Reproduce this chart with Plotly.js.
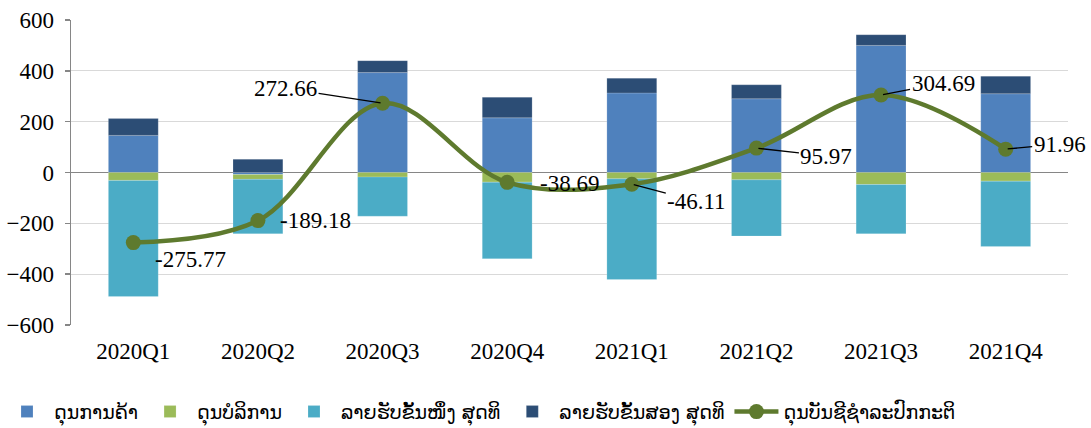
<!DOCTYPE html>
<html>
<head>
<meta charset="utf-8">
<script src="https://cdn.plot.ly/plotly-3.0.1.min.js"></script>
<style>html,body{margin:0;padding:0;background:#fff;}#chart{width:1091px;height:428px;}</style>
</head>
<body>
<div id="chart"></div>
<script>
// ---- data ----
const categories = ["2020Q1","2020Q2","2020Q3","2020Q4","2021Q1","2021Q2","2021Q3","2021Q4"];
const tradeBalance     = [146, -8, 393, 215, 313, 290, 500, 310];
const serviceBalance   = [-31, -19, -18, -38, -25, -29, -47, -34];
const primaryIncome    = [-457, -214, -154, -301, -396, -221, -194, -257];
const secondaryIncome  = [66, 52, 47, 81, 58, 55, 42, 69];
const currentAccount   = [-275.77, -189.18, 272.66, -38.69, -46.11, 95.97, 304.69, 91.96];
const seriesNames = ["ດຸນການຄ້າ","ດຸນບໍລິການ","ລາຍຮັບຂັ້ນໜຶ່ງ ສຸດທິ","ລາຍຮັບຂັ້ນສອງ ສຸດທິ","ດຸນບັນຊີຊຳລະປົກກະຕິ"];
const yTicks = [-600,-400,-200,0,200,400,600];

// ---- label placement (style only) ----
const labelOffsets = [
  {ax: 57, ay: 17, line: false},
  {ax: 58, ay: 0, line: false},
  {ax: -97, ay: -15, line: true},
  {ax: 62, ay: 1, line: false},
  {ax: 65, ay: 17, line: true},
  {ax: 70, ay: 8, line: true},
  {ax: 62, ay: -12, line: true},
  {ax: 54, ay: -5, line: true}
];

const serif = "Liberation Serif, Times New Roman, serif";
const lao = "DejaVu Sans, Noto Sans, sans-serif";
const barColors = ["#4F81BD","#9BBB59","#4BACC6","#2C4D75"];
const barSeries = [tradeBalance, serviceBalance, primaryIncome, secondaryIncome];

const traces = barSeries.map((vals, i) => ({
  type: "bar",
  x: categories,
  y: vals,
  name: seriesNames[i],
  marker: {color: barColors[i], line: {color: "rgba(255,255,255,0.35)", width: 0.5}},
  hoverinfo: "x+y+name"
}));
traces.push({
  type: "scatter",
  mode: "lines+markers",
  x: categories,
  y: currentAccount,
  name: seriesNames[4],
  line: {shape: "spline", smoothing: 1, color: "#5E7A2E", width: 4.5},
  marker: {size: 15, color: "#5E7A2E"}
});

const annotations = currentAccount.map((v, i) => {
  const o = labelOffsets[i];
  return {
    x: categories[i], y: v, xref: "x", yref: "y",
    text: v.toFixed(2),
    font: {family: serif, size: 23, color: "#000"},
    showarrow: true,
    arrowhead: 0, arrowwidth: 1.3,
    arrowcolor: o.line ? "#000" : "rgba(0,0,0,0)",
    ax: o.ax, ay: o.ay, standoff: 2
  };
});

const layout = {
  width: 1091, height: 428,
  margin: {l: 71, r: 23, t: 20, b: 103},
  paper_bgcolor: "#fff", plot_bgcolor: "#fff",
  barmode: "relative",
  bargap: 0.6,
  showlegend: true,
  legend: {
    orientation: "h", xref: "container", yref: "container",
    x: 0, xanchor: "left",
    y: 0.038, yanchor: "middle",
    font: {family: lao, size: 19, color: "#000"},
    traceorder: "normal", itemwidth: 44
  },
  xaxis: {
    type: "category", range: [-0.5, categories.length - 0.5], autorange: false,
    automargin: false,
    showgrid: false, showline: false, zeroline: false,
    ticks: "", ticklabelstandoff: 10,
    tickfont: {family: serif, size: 23, color: "#000"}
  },
  xaxis2: {
    overlaying: "x", anchor: "free", position: 0.5, side: "bottom",
    type: "linear", range: [-0.5, categories.length - 0.5], autorange: false,
    automargin: false,
    tickmode: "array",
    tickvals: categories.map((c, i) => i + 0.5),
    ticks: "outside", ticklen: 6, tickwidth: 1.5, tickcolor: "#868686",
    showticklabels: false, showgrid: false, showline: false, zeroline: false
  },
  yaxis: {
    range: [-600, 600], autorange: false, automargin: false,
    tickmode: "array", tickvals: yTicks,
    ticks: "outside", ticklen: 5, tickwidth: 1.5, tickcolor: "#868686",
    showline: true, linecolor: "#868686", linewidth: 1.5,
    gridcolor: "#D9D9D9", gridwidth: 1,
    zeroline: true, zerolinecolor: "#868686", zerolinewidth: 1.5,
    ticklabelstandoff: 6,
    tickfont: {family: serif, size: 23, color: "#000"}
  },
  annotations: annotations
};

Plotly.newPlot("chart", traces, layout, {displayModeBar: false, staticPlot: true});
</script>
</body>
</html>
